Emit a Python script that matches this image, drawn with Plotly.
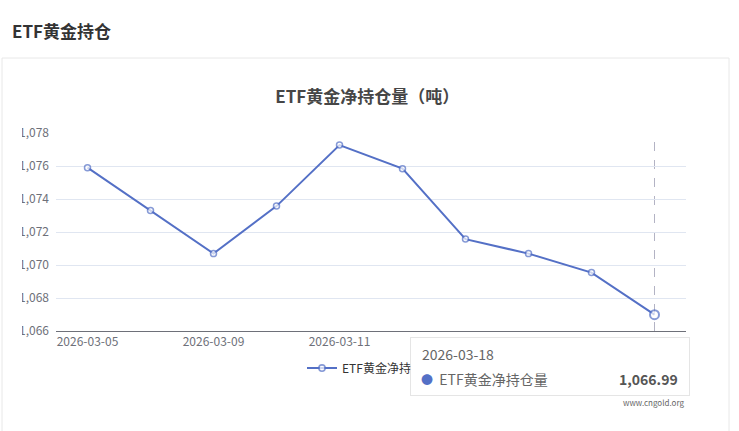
import plotly.graph_objects as go

# ETF gold net holdings (tonnes)
dates = ["2026-03-05", "2026-03-06", "2026-03-09", "2026-03-10", "2026-03-11",
         "2026-03-12", "2026-03-13", "2026-03-16", "2026-03-17", "2026-03-18"]
holdings = [1075.90, 1073.30, 1070.69, 1073.57, 1077.27,
            1075.84, 1071.57, 1070.69, 1069.54, 1066.99]
y_ticks = [1066, 1068, 1070, 1072, 1074, 1076, 1078]
# labels left of the tooltip (the others sit underneath it)
x_ticks = ["2026-03-05", "2026-03-09", "2026-03-11"]

series_name = "ETF黄金净持仓量"
blue = "#5470c6"
font_cn = "Noto Sans CJK SC, Microsoft YaHei, sans-serif"

W, H = 739, 431
L, R, T, B = 56, 53, 133, 100
pw, ph = W - L - R, H - T - B


def px_x(p):
    return (p - L) / pw


def px_y(p):
    return (H - B - p) / ph


sizes = [6] * (len(dates) - 1) + [9]
widths = [1.5] * (len(dates) - 1) + [2]

fig = go.Figure()
fig.add_trace(go.Scatter(
    x=dates, y=holdings, name=series_name, mode="lines+markers",
    line=dict(color=blue, width=2),
    marker=dict(symbol="circle", size=sizes, color="white",
                line=dict(color=blue, width=widths)),
    hoverinfo="skip"))

shapes = [
    # card border
    dict(type="rect", xref="paper", yref="paper", layer="below",
         x0=px_x(2), x1=px_x(729), y0=px_y(445), y1=px_y(58),
         line=dict(color="#e8e8e8", width=1), fillcolor="white"),
    # hover crosshair
    dict(type="line", xref="x", yref="paper", x0=dates[-1], x1=dates[-1], y0=0, y1=1,
         line=dict(color="#b3b3c4", width=1, dash="dash"), layer="below"),
    # container clip at left (labels run past the card edge)
    dict(type="rect", xref="paper", yref="paper", layer="above",
         x0=px_x(3), x1=px_x(22), y0=px_y(345), y1=px_y(120),
         line=dict(width=0), fillcolor="white"),
]

last_val = "{:,.2f}".format(holdings[-1])
annotations = [
    dict(text="<b>ETF黄金持仓</b>", xref="paper", yref="paper",
         x=px_x(10), y=px_y(30), xanchor="left", yanchor="middle",
         showarrow=False, font=dict(size=17, color="#333333", family=font_cn)),
    dict(text="www.cngold.org", xref="paper", yref="paper",
         x=px_x(686), y=px_y(402), xanchor="right", yanchor="middle",
         showarrow=False, font=dict(size=8, color="#666666")),
    # tooltip box
    dict(text=" ", xref="paper", yref="paper", x=px_x(550), y=px_y(366.5),
         xanchor="center", yanchor="middle", showarrow=False,
         width=278, height=57, bgcolor="white",
         bordercolor="rgba(0,0,0,0.10)", borderwidth=1, borderpad=0),
    dict(text=dates[-1], xref="paper", yref="paper", x=px_x(420), y=px_y(354),
         xanchor="left", yanchor="middle", showarrow=False,
         font=dict(size=14, color="#666666", family=font_cn)),
    dict(text="<span style='color:%s;font-size:12px'>●</span>  %s" % (blue, series_name),
         xref="paper", yref="paper", x=px_x(419), y=px_y(379),
         xanchor="left", yanchor="middle", showarrow=False,
         font=dict(size=14, color="#666666", family=font_cn)),
    dict(text="<b>" + last_val + "</b>", xref="paper", yref="paper",
         x=px_x(680), y=px_y(379), xanchor="right", yanchor="middle",
         showarrow=False, font=dict(size=14, color="#555555", family=font_cn)),
]

fig.update_layout(
    width=W, height=H,
    margin=dict(l=L, r=R, t=T, b=B, autoexpand=False),
    paper_bgcolor="white", plot_bgcolor="white",
    font=dict(family=font_cn, color="#6E7079", size=12),
    title=dict(text="<b>ETF黄金净持仓量（吨）</b>", x=0.497, xref="container",
               xanchor="center", y=1 - 97 / H, yanchor="middle",
               font=dict(size=17, color="#464646", family=font_cn)),
    xaxis=dict(type="category", range=[-0.5, len(dates) - 0.5],
               tickvals=x_ticks, ticktext=x_ticks,
               showgrid=False, showline=True, linecolor="#6E7079", linewidth=1,
               ticks="", tickfont=dict(size=12, color="#6E7079"), zeroline=False),
    yaxis=dict(range=[y_ticks[0], y_ticks[-1]], tickvals=y_ticks,
               tickformat=",d", showgrid=True, gridcolor="#E0E6F1",
               showline=False, ticks="", ticklabelstandoff=6,
               tickfont=dict(size=12, color="#6E7079"), zeroline=False),
    showlegend=True,
    legend=dict(orientation="h", x=0.5, xanchor="center", y=px_y(368),
                yanchor="middle", font=dict(size=12, color="#333333", family=font_cn),
                bgcolor="rgba(0,0,0,0)"),
    shapes=shapes,
    annotations=annotations,
)

fig.write_html("out.html", config={"displayModeBar": False},
               post_script="document.body.style.margin='0px';")
